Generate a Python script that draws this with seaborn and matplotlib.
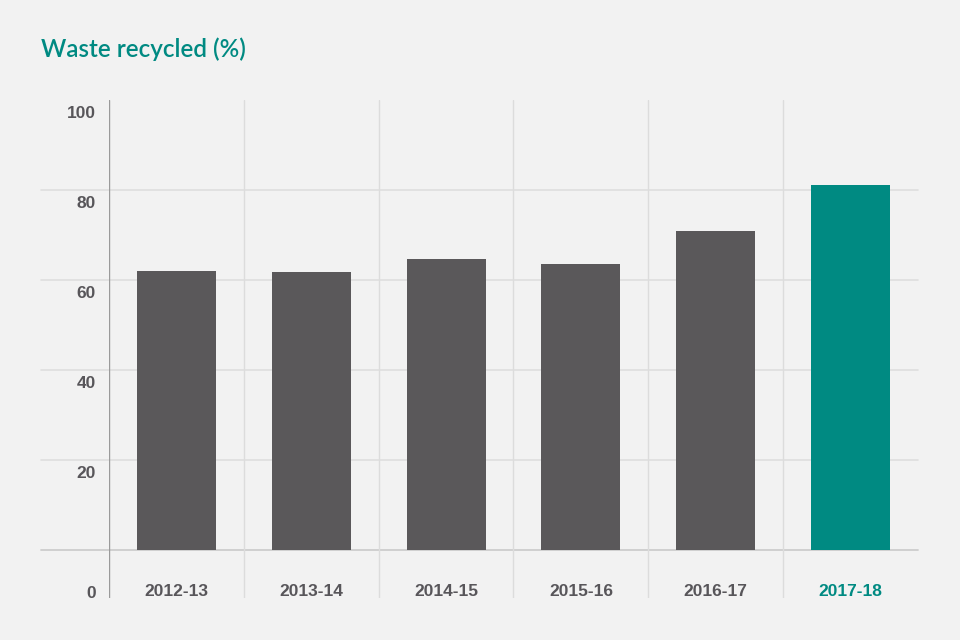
import matplotlib
matplotlib.use("Agg")
import matplotlib.pyplot as plt
import matplotlib.transforms as mtransforms
import seaborn as sns
import pandas as pd

years = ["2012-13", "2013-14", "2014-15", "2015-16", "2016-17", "2017-18"]
recycled = [62.0, 61.7, 64.7, 63.6, 70.9, 81.1]
ytick_values = [0, 20, 40, 60, 80, 100]
title = "Waste recycled (%)"

BG = "#f2f2f2"
GREY = "#5a585a"
TEAL = "#008a82"
TEXT = "#58565a"

sns.set_theme(style="white")
plt.rcParams["font.family"] = ["Liberation Sans", "DejaVu Sans"]

df = pd.DataFrame({"year": years, "value": recycled})
colors = [GREY] * (len(years) - 1) + [TEAL]

fig = plt.figure(figsize=(9.6, 6.4), dpi=100, facecolor=BG)
ax = fig.add_axes([109 / 960, 42 / 640, 809 / 960, 498 / 640])
ax.set_facecolor(BG)

sns.barplot(data=df, x="year", y="value", hue="year", palette=colors,
            legend=False, width=0.585, saturation=1, linewidth=0,
            edgecolor="none", ax=ax, zorder=3)

ax.set_xlim(-0.5, len(years) - 0.5)
ax.set_ylim(-10.67, 100)

# horizontal grid lines (extend left of the axes)
for v in ytick_values[:-1]:
    ax.axhline(v, xmin=-0.084, xmax=1.0, color="#cdcdcd" if v == 0 else "#dedede",
               lw=1.3 if v == 0 else 1.2, clip_on=False, zorder=1)
# vertical separators
for i in range(1, len(years)):
    ax.axvline(i - 0.5, color="#dcdcdc", lw=1.0, zorder=1)
ax.axvline(-0.5, color="#9a9a9a", lw=1.0, zorder=1)

for s in ax.spines.values():
    s.set_visible(False)

# y tick labels (placed below their gridlines as in the reference)
ypos = [v - 2.7 if v > 0 else -9.3 for v in ytick_values]
ax.set_yticks(ypos)
ax.set_yticklabels([str(v) for v in ytick_values], fontsize=12.5,
                   fontweight="bold", color=TEXT)
ax.tick_params(axis="y", length=0, pad=9.5)

ax.set_xticks([])
ax.set_xlabel("")
ax.set_ylabel("")
trans = mtransforms.blended_transform_factory(ax.transData, ax.transData)
for i, y in enumerate(years):
    ax.text(i, -9.3, y, ha="center", va="center", fontsize=12.5,
            fontweight="bold", color=TEAL if i == len(years) - 1 else TEXT,
            transform=trans)

fig.text(41 / 960, 1 - 57 / 640, title, ha="left", va="baseline",
         fontsize=17.5, fontweight="semibold", color=TEAL,
         family=["Lato", "DejaVu Sans"])

fig.savefig("out.png", dpi=100, facecolor=BG)
